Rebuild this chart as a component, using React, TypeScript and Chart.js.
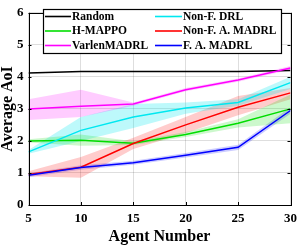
import React, { useEffect, useRef } from "react";
import { Chart, registerables } from "chart.js";

Chart.register(...registerables);

const agents = [5, 10, 15, 20, 25, 30];
const yTicks = [0, 1, 2, 3, 4, 5, 6];

const seriesNames = ["Random", "H-MAPPO", "VarlenMADRL", "Non-F. DRL", "Non-F. A. MADRL", "F. A. MADRL"];

const randomMean = [4.12, 4.17, 4.17, 4.17, 4.17, 4.2];

const hmappoMean = [2.0, 2.02, 1.93, 2.2, 2.55, 3.0];
const hmappoLow = [1.95, 1.85, 1.87, 2.12, 2.42, 2.55];
const hmappoHigh = [2.05, 2.2, 1.99, 2.28, 2.68, 3.45];

const varlenMean = [3.0, 3.08, 3.15, 3.6, 3.9, 4.28];
const varlenLow = [2.65, 2.75, 3.1, 3.55, 3.85, 4.22];
const varlenHigh = [3.3, 3.6, 3.2, 3.65, 3.95, 4.34];

const nonfDrlMean = [1.66, 2.33, 2.75, 3.03, 3.2, 3.82];
const nonfDrlLow = [1.6, 2.0, 2.4, 2.85, 3.1, 3.62];
const nonfDrlHigh = [1.72, 2.75, 3.15, 3.2, 3.3, 4.0];

const nonfAMean = [0.95, 1.18, 1.92, 2.5, 3.05, 3.5];
const nonfALow = [0.9, 0.85, 1.75, 2.25, 2.8, 3.3];
const nonfAHigh = [1.05, 1.5, 2.1, 2.75, 3.4, 3.65];

const faMean = [0.93, 1.17, 1.32, 1.55, 1.8, 2.95];
const faLow = [0.87, 1.1, 1.26, 1.48, 1.72, 2.85];
const faHigh = [0.99, 1.24, 1.38, 1.62, 1.88, 3.05];

const colors = ["#000000", "#00dd00", "#ff00ff", "#00e8f0", "#ff0000", "#0000ff"];
const bandColors = [
  "rgba(0,0,0,0)",
  "rgba(0,221,0,0.2)",
  "rgba(255,0,255,0.2)",
  "rgba(0,232,240,0.26)",
  "rgba(255,0,0,0.2)",
  "rgba(0,0,255,0.2)",
];

const means = [randomMean, hmappoMean, varlenMean, nonfDrlMean, nonfAMean, faMean];
const lows = [null, hmappoLow, varlenLow, nonfDrlLow, nonfALow, faLow];
const highs = [null, hmappoHigh, varlenHigh, nonfDrlHigh, nonfAHigh, faHigh];

const FONT = "'Liberation Serif', 'Times New Roman', serif";

const pts = (arr: number[]) => agents.map((x, i) => ({ x, y: arr[i] }));

const framePlugin = {
  id: "frame",
  afterDatasetsDraw(chart: any) {
    const { ctx, chartArea } = chart;
    const { left, right, top, bottom } = chartArea;
    const xs = chart.scales.x;
    const ys = chart.scales.y;
    ctx.save();
    ctx.strokeStyle = "#000";
    ctx.lineWidth = 1;
    ctx.strokeRect(Math.round(left) + 0.5, Math.round(top) + 0.5, Math.round(right - left), Math.round(bottom - top));
    ctx.beginPath();
    agents.forEach((v) => {
      const px = Math.round(xs.getPixelForValue(v)) + 0.5;
      ctx.moveTo(px, bottom);
      ctx.lineTo(px, bottom - 3);
      ctx.moveTo(px, top);
      ctx.lineTo(px, top + 3);
    });
    yTicks.forEach((v) => {
      const py = Math.round(ys.getPixelForValue(v)) + 0.5;
      ctx.moveTo(left, py);
      ctx.lineTo(left + 3, py);
      ctx.moveTo(right, py);
      ctx.lineTo(right - 3, py);
    });
    ctx.stroke();

    // legend
    const bx = 43, by = 9, bw = 238, bh = 44;
    ctx.fillStyle = "#fff";
    ctx.fillRect(bx, by, bw, bh);
    ctx.strokeStyle = "#000";
    ctx.lineWidth = 1.2;
    ctx.strokeRect(bx + 0.5, by + 0.5, bw, bh);
    ctx.font = `bold 11.5px ${FONT}`;
    ctx.textBaseline = "middle";
    ctx.textAlign = "left";
    const rows = [16.5, 31, 45.5];
    const cols = [
      { l0: 45, l1: 71, t: 72 },
      { l0: 155, l1: 182, t: 183 },
    ];
    const order = [0, 3, 1, 4, 2, 5];
    order.forEach((si, k) => {
      const r = Math.floor(k / 2);
      const c = cols[k % 2];
      const y = rows[r];
      ctx.strokeStyle = colors[si];
      ctx.lineWidth = 1.6;
      ctx.beginPath();
      ctx.moveTo(c.l0, y);
      ctx.lineTo(c.l1, y);
      ctx.stroke();
      ctx.fillStyle = "#000";
      ctx.fillText(seriesNames[si], c.t, y + 0.5);
    });
    ctx.restore();
  },
};

export default function App() {
  const ref = useRef<HTMLCanvasElement | null>(null);

  useEffect(() => {
    document.body.style.margin = "0";
    const canvas = ref.current;
    if (!canvas) return;

    const datasets: any[] = [];
    for (let i = 0; i < means.length; i++) {
      const lo = lows[i];
      const hi = highs[i];
      if (!lo || !hi) continue;
      const hiIndex = datasets.length;
      datasets.push({
        label: "_hi" + i,
        data: pts(hi),
        borderWidth: 0,
        pointRadius: 0,
        fill: false,
        order: 10,
      });
      datasets.push({
        label: "_lo" + i,
        data: pts(lo),
        borderWidth: 0,
        pointRadius: 0,
        fill: hiIndex,
        backgroundColor: bandColors[i],
        order: 10,
      });
    }
    for (let i = means.length - 1; i >= 0; i--) {
      datasets.push({
        label: seriesNames[i],
        data: pts(means[i]),
        borderColor: colors[i],
        borderWidth: 1.5,
        pointRadius: 0,
        fill: false,
        tension: 0,
        order: 1,
      });
    }

    const chart = new Chart(canvas, {
      type: "line",
      data: { datasets },
      options: {
        animation: false,
        responsive: false,
        maintainAspectRatio: false,
        layout: { padding: { top: 5, right: 8, left: 0, bottom: 0 } },
        plugins: {
          legend: { display: false },
          tooltip: { enabled: false },
          filler: { propagate: false },
        },
        scales: {
          x: {
            type: "linear",
            min: 5,
            max: 30,
            afterBuildTicks: (s: any) => {
              s.ticks = agents.map((v) => ({ value: v }));
            },
            afterFit: (s: any) => {
              s.height = 41;
            },
            grid: { color: "rgba(0,0,0,0.13)", drawTicks: false },
            border: { display: false },
            ticks: {
              color: "#000",
              padding: 6,
              font: { family: FONT, size: 13, weight: "bold" },
              maxRotation: 0,
            },
            title: {
              display: true,
              text: "Agent Number",
              color: "#000",
              font: { family: FONT, size: 16, weight: "bold", lineHeight: 1.1 },
              padding: { top: 0, bottom: 0 },
            },
          },
          y: {
            min: 0,
            max: 6,
            afterBuildTicks: (s: any) => {
              s.ticks = yTicks.map((v) => ({ value: v }));
            },
            afterFit: (s: any) => {
              s.width = 28.5;
            },
            grid: { color: "rgba(0,0,0,0.13)", drawTicks: false },
            border: { display: false },
            ticks: {
              color: "#000",
              padding: 5,
              font: { family: FONT, size: 13, weight: "bold" },
            },
            title: {
              display: true,
              text: "Average AoI",
              color: "#000",
              font: { family: FONT, size: 16, weight: "bold", lineHeight: 1 },
              padding: { top: 0, bottom: 0 },
            },
          },
        },
      },
      plugins: [framePlugin],
    });

    return () => chart.destroy();
  }, []);

  return <canvas ref={ref} width={303} height={246} style={{ display: "block" }} />;
}
